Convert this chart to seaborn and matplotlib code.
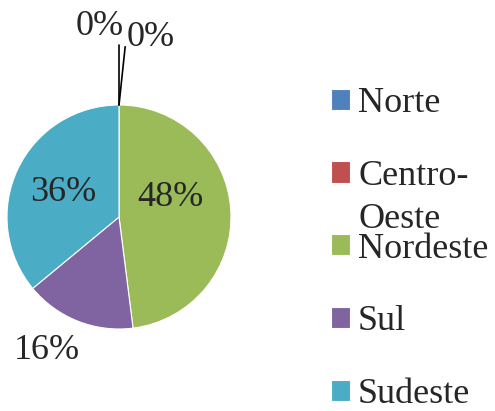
import matplotlib
matplotlib.use('Agg')
import matplotlib.pyplot as plt
import seaborn as sns

# data
regioes = ['Norte', 'Centro-Oeste', 'Nordeste', 'Sul', 'Sudeste']
valores = [0, 0, 48, 16, 36]
cores = ['#4F81BD', '#C0504D', '#9BBB59', '#8064A2', '#4BACC6']

sns.set_style('white')
plt.rcParams['font.family'] = 'serif'
plt.rcParams['font.serif'] = ['Liberation Serif', 'Times New Roman', 'DejaVu Serif']

fig = plt.figure(figsize=(4.95, 4.11), dpi=100)
# square axes, pie centre ~ (119, 217) px, radius ~112 px
ax = fig.add_axes([7 / 495, 82 / 411, 224 / 495, 224 / 411])

wedges, texts, autotexts = ax.pie(
    valores, colors=cores, startangle=90, counterclock=False,
    autopct='%1.0f%%', textprops={'fontsize': 26},
    wedgeprops={'linewidth': 0.8, 'edgecolor': 'white'})
ax.set_xlim(-1, 1)
ax.set_ylim(-1, 1)
ax.set_aspect('equal')

# label positions (data units) as Excel placed them
label_pos = [(-0.17, 1.70), (0.28, 1.60), (0.46, 0.17), (-0.64, -1.19), (-0.50, 0.22)]
for t, p in zip(autotexts, label_pos):
    t.set_position(p)
    t.set_clip_on(False)

# leader lines for the two 0% slices
for end in [(0.0, 1.54), (0.055, 1.52)]:
    ax.plot([0, end[0]], [1, end[1]], color='black', lw=1.2, clip_on=False)

# "Centro-Oeste" wraps in the original without pushing the other rows down
leg_labels = ['Norte', 'Centro-', 'Nordeste', 'Sul', 'Sudeste']
leg = fig.legend(wedges, leg_labels, loc='center left',
                 bbox_to_anchor=(331 / 495, 1 - 249 / 411),
                 frameon=False, fontsize=26, borderpad=0, borderaxespad=0,
                 handlelength=0.53, handleheight=0.53, handletextpad=0.22,
                 labelspacing=1.1)
fig.text(358 / 495, 1 - 228 / 411, 'Oeste', fontsize=26, va='baseline')

fig.savefig('out.png', dpi=100)
